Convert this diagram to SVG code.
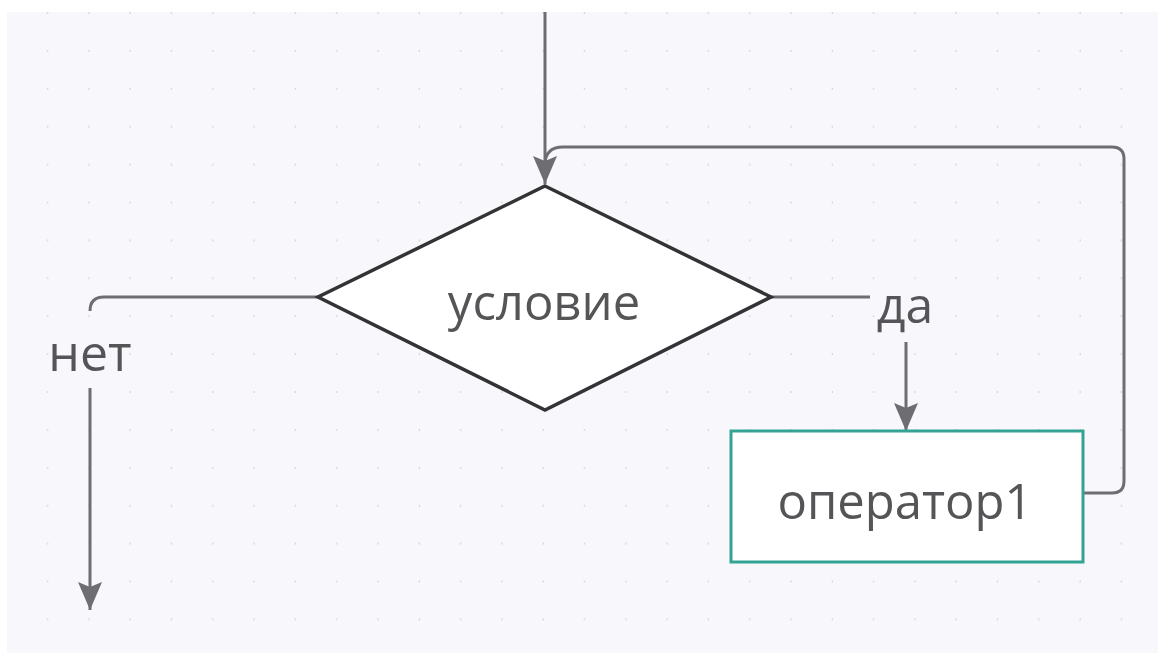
<svg xmlns="http://www.w3.org/2000/svg" width="1158" height="653" viewBox="0 0 1158 653">
  <defs>
    <pattern id="dots" x="7" y="12" width="41.3" height="37.9" patternUnits="userSpaceOnUse">
      <rect x="40" y="0" width="4" height="2" fill="#d4d4dc"/>
    </pattern>
    <marker id="arrow" viewBox="0 0 28 24" refX="28" refY="12" markerWidth="28" markerHeight="24" markerUnits="userSpaceOnUse" orient="auto">
      <path d="M0,0 L28,12 L0,24 L5,12 Z" fill="#6d6d72"/>
    </marker>
  </defs>
  <style>
    .conn { fill: none; stroke: #6d6d72; stroke-width: 3; }
    .lbl { font-family: "Open Sans", "Noto Sans", sans-serif; fill: #555558; }
  </style>
  <rect x="0" y="0" width="1158" height="653" fill="#ffffff"/>
  <rect x="7" y="12" width="1151" height="641" fill="#f8f8fc"/>
  <rect x="7" y="12" width="1151" height="641" fill="url(#dots)"/>

  <g id="connectors">
    <path class="conn" d="M545,12 L545,184" marker-end="url(#arrow)"/>
    <path class="conn" d="M1084,493 L1112,493 Q1124,493 1124,481 L1124,159 Q1124,147 1112,147 L563,147 Q545,147 545,165"/>
    <path class="conn" d="M318,297 L104,297 Q90,297 90,311"/>
    <path class="conn" d="M90,388 L90,610" marker-end="url(#arrow)"/>
    <path class="conn" d="M771,297 L870,297"/>
    <path class="conn" d="M906,342 L906,431" marker-end="url(#arrow)"/>
    <text class="lbl" x="90" y="371" font-size="50" text-anchor="middle">нет</text>
    <text class="lbl" x="905" y="323" font-size="50" text-anchor="middle">да</text>
  </g>

  <g id="node-condition">
    <polygon points="545,186 771,297 545,410 318,297" fill="#ffffff" stroke="#333336" stroke-width="3.5"/>
    <text class="lbl" x="544" y="320" font-size="49" text-anchor="middle">условие</text>
  </g>

  <g id="node-operator1">
    <rect x="731" y="431" width="352" height="131" fill="#ffffff" stroke="#33a394" stroke-width="3"/>
    <text class="lbl" x="905" y="519" font-size="49" text-anchor="middle">оператор1</text>
  </g>
</svg>
